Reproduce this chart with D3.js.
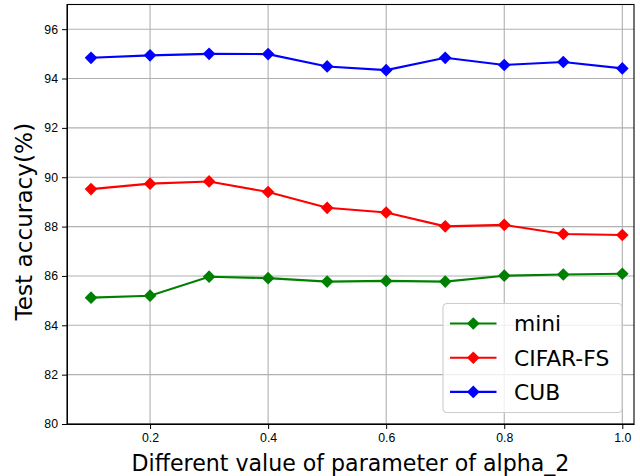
<!DOCTYPE html>
<html>
<head>
<meta charset="utf-8">
<script src="https://cdn.jsdelivr.net/npm/d3@7"></script>
<style>
  body { margin: 0; background: #fff; }
  svg { display: block; font-family: "DejaVu Sans", sans-serif; }
  .grid line { stroke: #b0b0b0; stroke-width: 1.1; }
  .axis path, .axis line { stroke: #000; }
  .axis text { font-size: 12.3px; fill: #000; }
</style>
</head>
<body>
<svg id="chart" width="640" height="476"></svg>
<script>
// alpha_2 values on the x axis
var alphas = [0.1, 0.2, 0.3, 0.4, 0.5, 0.6, 0.7, 0.8, 0.9, 1.0];
var mini = [85.12, 85.20, 85.97, 85.91, 85.77, 85.80, 85.77, 86.01, 86.06, 86.09];
var cifar = [89.52, 89.74, 89.83, 89.40, 88.76, 88.57, 88.01, 88.07, 87.70, 87.66];
var cub = [94.84, 94.94, 95.00, 94.99, 94.49, 94.34, 94.84, 94.55, 94.67, 94.41];
var xTicks = [0.2, 0.4, 0.6, 0.8, 1.0];
var yTicks = [80, 82, 84, 86, 88, 90, 92, 94, 96];

var series = [
  {name: "mini", values: mini, color: "#008000"},
  {name: "CIFAR-FS", values: cifar, color: "#ff0000"},
  {name: "CUB", values: cub, color: "#0000ff"}
];

var svg = d3.select("#chart"),
    margin = {top: 4.5, right: 6, bottom: 52, left: 67},
    width = +svg.attr("width") - margin.left - margin.right,
    height = +svg.attr("height") - margin.top - margin.bottom;

var g = svg.append("g").attr("transform", "translate(" + margin.left + "," + margin.top + ")");

var x = d3.scaleLinear().domain([0.0593, 1.0198]).range([0, width]);
var y = d3.scaleLinear().domain([80, 97]).range([height, 0]);

// grid
g.append("g").attr("class", "grid")
  .selectAll("line").data(xTicks).enter().append("line")
    .attr("x1", function(d) { return x(d); })
    .attr("x2", function(d) { return x(d); })
    .attr("y1", 0).attr("y2", height);
g.append("g").attr("class", "grid")
  .selectAll("line").data(yTicks).enter().append("line")
    .attr("y1", function(d) { return y(d); })
    .attr("y2", function(d) { return y(d); })
    .attr("x1", 0).attr("x2", width);

var diamond = d3.symbol().type(d3.symbolSquare).size(80);

var line = d3.line()
  .x(function(d, i) { return x(alphas[i]); })
  .y(function(d) { return y(d); });

series.forEach(function(s) {
  g.append("path")
    .datum(s.values)
    .attr("fill", "none")
    .attr("stroke", s.color)
    .attr("stroke-width", 2.1)
    .attr("d", line);
  g.selectAll(".pt-" + s.name)
    .data(s.values)
    .enter().append("path")
    .attr("d", diamond)
    .attr("fill", s.color)
    .attr("transform", function(d, i) {
      return "translate(" + x(alphas[i]) + "," + y(d) + ") rotate(45)";
    });
});

// axes
g.append("g")
  .attr("class", "axis")
  .attr("transform", "translate(0," + height + ")")
  .call(d3.axisBottom(x).tickValues(xTicks).tickFormat(d3.format(".1f")).tickSize(5).tickPadding(4.5).tickSizeOuter(0));
g.append("g")
  .attr("class", "axis")
  .call(d3.axisLeft(y).tickValues(yTicks).tickSize(5).tickPadding(4).tickSizeOuter(0));

// frame
g.append("rect")
  .attr("width", width).attr("height", height)
  .attr("fill", "none").attr("stroke", "#000").attr("stroke-width", 1.1);

// axis titles
svg.append("text")
  .attr("x", margin.left + width / 2)
  .attr("y", 470.5)
  .attr("text-anchor", "middle")
  .style("font-size", "22.1px")
  .text("Different value of parameter of alpha_2");
svg.append("text")
  .attr("transform", "translate(31.5," + 221.7 + ") rotate(-90)")
  .attr("text-anchor", "middle")
  .style("font-size", "23.2px")
  .text("Test accuracy(%)");

// legend
var lg = svg.append("g").attr("transform", "translate(443,303.5)");
lg.append("rect")
  .attr("width", 179).attr("height", 109)
  .attr("rx", 4).attr("ry", 4)
  .attr("fill", "#fff").attr("fill-opacity", 0.8)
  .attr("stroke", "#cccccc").attr("stroke-width", 1.1);
series.forEach(function(s, i) {
  var ly = 20 + i * 34.2;
  lg.append("line")
    .attr("x1", 7).attr("x2", 53.5)
    .attr("y1", ly).attr("y2", ly)
    .attr("stroke", s.color).attr("stroke-width", 2.1);
  lg.append("path")
    .attr("d", diamond)
    .attr("fill", s.color)
    .attr("transform", "translate(30.3," + ly + ") rotate(45)");
  lg.append("text")
    .attr("x", 71)
    .attr("y", ly)
    .attr("dy", "0.36em")
    .style("font-size", "21.8px")
    .text(s.name);
});
</script>
</body>
</html>
